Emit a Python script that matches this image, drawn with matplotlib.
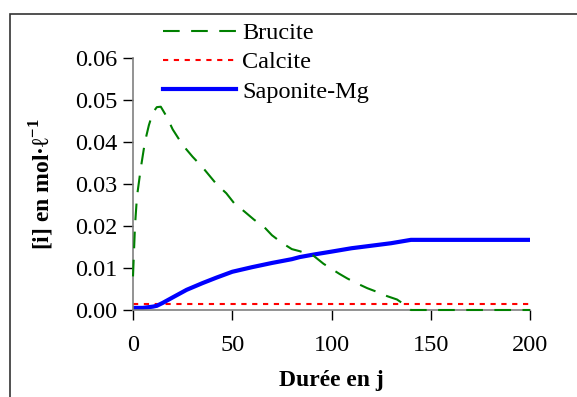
import matplotlib
matplotlib.use("Agg")
import matplotlib.pyplot as plt
from matplotlib.patches import Rectangle

plt.rcParams['font.family'] = ['Liberation Serif', 'DejaVu Serif']
plt.rcParams['mathtext.fontset'] = 'custom'
plt.rcParams['mathtext.rm'] = 'Liberation Serif'
plt.rcParams['mathtext.bf'] = 'Liberation Serif:bold'

# Brucite
t_bru = [0, 1, 2, 4, 6, 8, 10, 12, 14, 17, 20, 25, 30, 35, 42, 47, 51, 56, 61, 66, 70, 75, 80, 84, 91,
         96, 100, 104, 108, 113, 118, 123, 128, 133, 137, 140, 150, 160, 170, 180, 190, 200]
c_bru = [0.008, 0.020, 0.027, 0.034, 0.040, 0.044, 0.047, 0.0483, 0.0484, 0.046, 0.043, 0.0393, 0.0365,
         0.0340, 0.030, 0.0278, 0.0254, 0.0235, 0.0215, 0.0198, 0.0178, 0.0160, 0.0145, 0.0140, 0.0129,
         0.0110, 0.0098, 0.0086, 0.0075, 0.0063, 0.0052, 0.0043, 0.0033, 0.0025, 0.0012, 0.0, 0.0, 0.0,
         0.0, 0.0, 0.0, 0.0]

# Calcite
t_cal = [0, 200]
c_cal = [0.0014, 0.0014]

# Saponite-Mg
t_sap = [0, 5, 10, 12, 15, 20, 27, 35, 42, 50, 60, 70, 80, 84, 91, 100, 110, 120, 130, 140, 150, 175, 200]
c_sap = [0.0005, 0.0005, 0.0008, 0.001, 0.0017, 0.003, 0.0048, 0.0064, 0.0077, 0.0091, 0.0102, 0.0112,
         0.0121, 0.0126, 0.0132, 0.0139, 0.0147, 0.0153, 0.0159, 0.0167, 0.0167, 0.0167, 0.0167]

fig = plt.figure(figsize=(5.77, 3.97), dpi=100)
ax = fig.add_axes([133/577, 1 - 310/397, (530-133)/577, (310-58)/397])

ax.plot(t_bru, c_bru, color='green', lw=1.5, ls=(0, (8, 5.5)), label='Brucite', clip_on=False, zorder=4)
ax.plot(t_cal, c_cal, color='red', lw=1.5, ls=(0, (2.5, 2.7)), label='Calcite')
ax.plot(t_sap, c_sap, color='blue', lw=3, label='Saponite-Mg')

ax.set_xlim(0, 200)
ax.set_ylim(0, 0.06)
ax.set_xticks([0, 50, 100, 150, 200])
ax.set_yticks([0, 0.01, 0.02, 0.03, 0.04, 0.05, 0.06])
ax.set_yticklabels(['0.00', '0.01', '0.02', '0.03', '0.04', '0.05', '0.06'])
for s in ['top', 'right']:
    ax.spines[s].set_visible(False)
for s in ['left', 'bottom']:
    ax.spines[s].set_color('#808080')
    ax.spines[s].set_linewidth(1.2)
ax.tick_params(direction='out', length=7, width=1, color='black', labelsize=17.5, pad=4)
ax.tick_params(axis='x', pad=11)
ax.patch.set_alpha(0)

ax.set_xlabel('Durée en j', fontsize=17, fontweight='bold', labelpad=10)
ax.set_ylabel('[i] en mol·ℓ$^{\\mathbf{-1}}$', fontsize=17, fontweight='bold', labelpad=14)

fig.legend(loc='upper left', bbox_to_anchor=(163/577, 1 - 22/397), frameon=False, fontsize=17.5,
           handlelength=3.0, handletextpad=0.25, labelspacing=0.3, borderpad=0, borderaxespad=0)

fig.patches.append(Rectangle((10/577, -0.1), 1.2, 1 + 0.1 - 14/397, transform=fig.transFigure,
                             fill=False, edgecolor='#333333', lw=1.2))

fig.savefig('out.png', dpi=100)
